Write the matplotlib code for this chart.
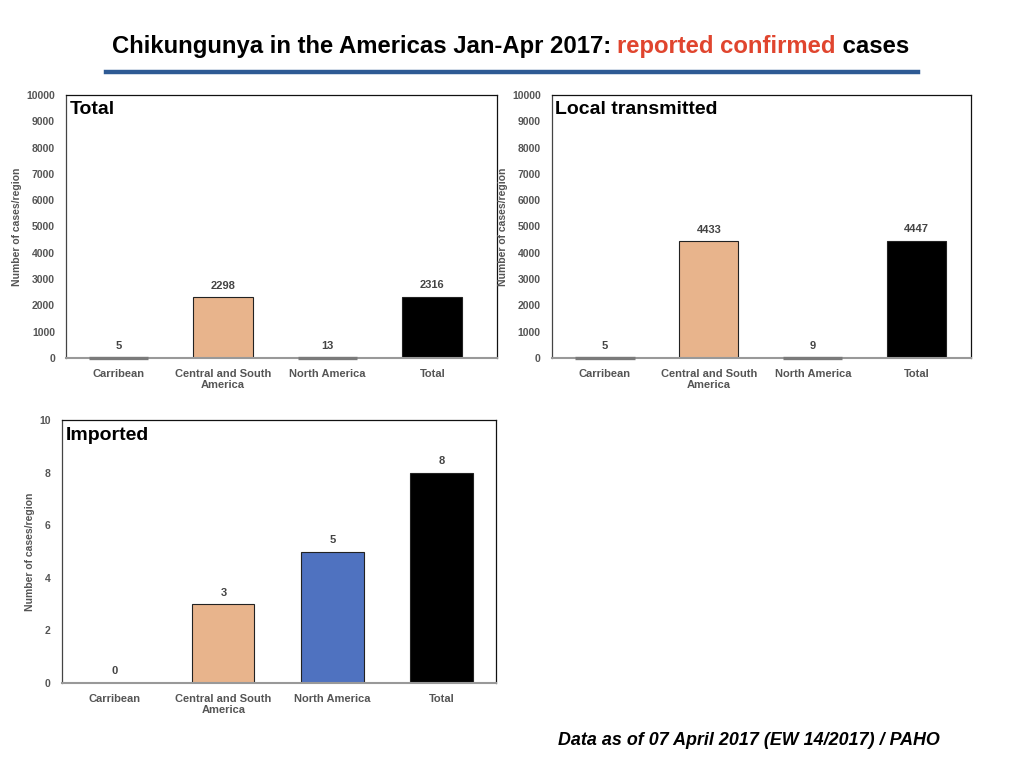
import matplotlib.pyplot as plt
from matplotlib.lines import Line2D

plt.rcParams['font.family'] = ['Liberation Sans', 'DejaVu Sans']

regions = ["Carribean", "Central and South\nAmerica", "North America", "Total"]
total_cases = [5, 2298, 13, 2316]
local_cases = [5, 4433, 9, 4447]
imported_cases = [0, 3, 5, 8]
bar_colors = ["#4F72C0", "#E8B48C", "#4F72C0", "#000000"]

TICK_GRAY = "#555555"


def draw_panel(fig, rect, values, title, ymax, ystep, xlim):
    ax = fig.add_axes(rect)
    x = list(range(len(values)))
    for xi, v, c in zip(x, values, bar_colors):
        small = v < ymax * 0.01
        if v == 0:
            ax.bar(xi, 0, width=0.57, color="none", edgecolor="none")
        elif small:
            # tiny bars only show as their grey outline, above the axis line
            ax.bar(xi, v, width=0.57, color=c, edgecolor="#7a7a7a",
                   linewidth=2.4, zorder=4, clip_on=False)
        else:
            ax.bar(xi, v, width=0.57, color=c, edgecolor="#222222",
                   linewidth=0.8, zorder=2)
        ax.text(xi, v + ymax * 0.025, str(v), ha="center", va="bottom",
                fontsize=8, fontweight="bold", color="#444444")
    ax.set_xlim(*xlim)
    ax.set_ylim(0, ymax)
    ax.set_yticks(range(0, ymax + 1, ystep))
    ax.set_xticks(x)
    ax.set_xticklabels(regions, fontsize=8, fontweight="bold", color=TICK_GRAY,
                       linespacing=1.1)
    for lab in ax.get_yticklabels():
        lab.set_fontsize(7.5)
        lab.set_fontweight("bold")
        lab.set_color(TICK_GRAY)
    ax.tick_params(axis="x", length=0, pad=8)
    ax.tick_params(axis="y", length=0, pad=8)
    ax.set_ylabel("Number of cases/region", fontsize=7.5, fontweight="bold",
                  color=TICK_GRAY, labelpad=3)
    for side in ("top", "right"):
        ax.spines[side].set_color("#111111")
        ax.spines[side].set_linewidth(0.9)
    ax.spines["left"].set_color("#444444")
    ax.spines["left"].set_linewidth(0.9)
    ax.spines["bottom"].set_color("#999999")
    ax.spines["bottom"].set_linewidth(1.5)
    ax.text(0.008, 0.975, title, transform=ax.transAxes, ha="left", va="top",
            fontsize=14, fontweight="bold", color="black")
    return ax


fig = plt.figure(figsize=(10.24, 7.68), dpi=100)

draw_panel(fig, [0.0645, 0.534, 0.421, 0.3424], total_cases, "Total",
           10000, 1000, (-0.5, 3.62))
draw_panel(fig, [0.539, 0.534, 0.409, 0.3424], local_cases, "Local transmitted",
           10000, 1000, (-0.51, 3.52))
draw_panel(fig, [0.0605, 0.1107, 0.424, 0.3424], imported_cases, "Imported",
           10, 2, (-0.48, 3.5))

# title with highlighted words
TITLE_SIZE = 17.2
t1 = fig.text(0.109, 0.94, "Chikungunya in the Americas Jan-Apr 2017: ",
              fontsize=TITLE_SIZE, fontweight="bold", color="black", va="center")
fig.canvas.draw()
x2 = t1.get_window_extent().x1 / fig.bbox.width
t2 = fig.text(x2, 0.94, "reported confirmed", fontsize=TITLE_SIZE,
              fontweight="bold", color="#E0452E", va="center")
fig.canvas.draw()
x3 = t2.get_window_extent().x1 / fig.bbox.width
fig.text(x3, 0.94, " cases", fontsize=TITLE_SIZE, fontweight="bold",
         color="black", va="center")

fig.add_artist(Line2D([0.104, 0.896], [0.906, 0.906], transform=fig.transFigure,
                      color="#2E5A94", linewidth=3.2))

fig.text(0.918, 0.036, "Data as of 07 April 2017 (EW 14/2017) / PAHO",
         ha="right", va="center", fontsize=12.9, fontweight="bold",
         fontstyle="italic", color="black")

fig.savefig("out.png", dpi=100)
